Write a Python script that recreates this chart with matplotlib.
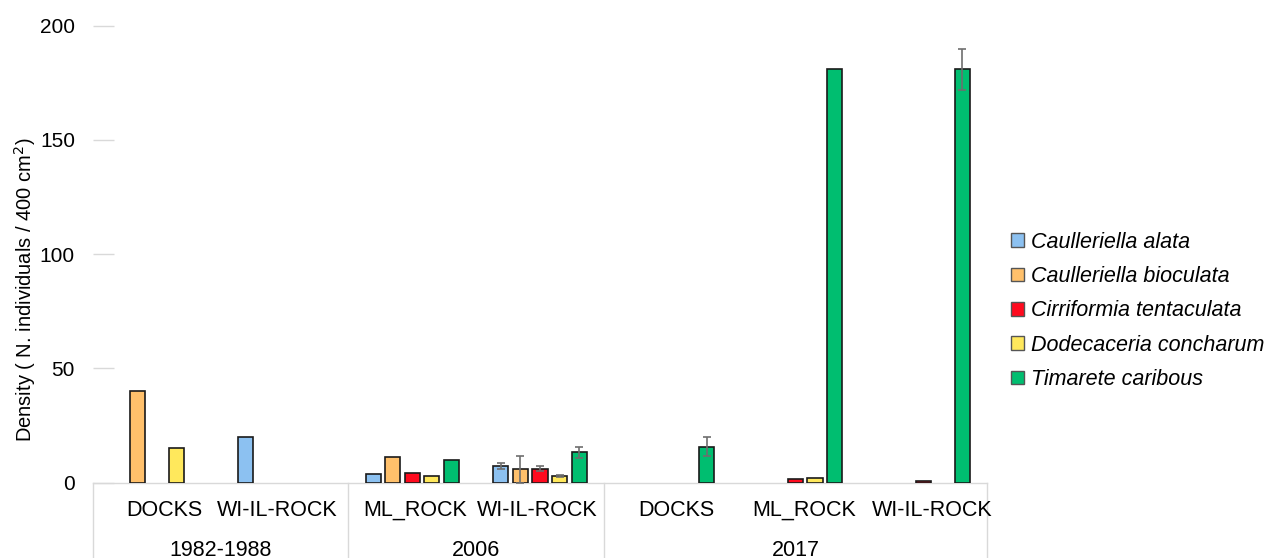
import numpy as np
import matplotlib
matplotlib.use("Agg")
import matplotlib.pyplot as plt

plt.rcParams['font.family'] = ['Liberation Sans', 'DejaVu Sans']

# ---- data ----
sites = ["DOCKS", "WI-IL-ROCK", "ML_ROCK", "WI-IL-ROCK", "DOCKS", "ML_ROCK", "WI-IL-ROCK"]
periods = ["1982-1988", "2006", "2017"]
period_sizes = [2, 2, 3]
species = ["Caulleriella alata", "Caulleriella bioculata", "Cirriformia tentaculata",
           "Dodecaceria concharum", "Timarete caribous"]

c_alata = [0, 20.2, 3.7, 7.5, 0, 0, 0]
c_bioculata = [40.2, 0, 11.2, 5.8, 0, 0, 0]
c_tentaculata = [0, 0, 4.3, 6.2, 0, 1.5, 0.9]
d_concharum = [15.2, 0, 2.8, 2.9, 0, 2.2, 0]
t_caribous = [0, 0, 9.8, 13.3, 15.7, 180.8, 180.8]

err_alata = [0, 0, 0, 1.3, 0, 0, 0]
err_bioculata = [0, 0, 0, 5.9, 0, 0, 0]
err_tentaculata = [0, 0, 0, 1.3, 0, 0, 0]
err_concharum = [0, 0, 0, 0.5, 0, 0, 0]
err_caribous = [0, 0, 0, 2.4, 4.2, 0, 9.1]

values = [c_alata, c_bioculata, c_tentaculata, d_concharum, t_caribous]
errors = [err_alata, err_bioculata, err_tentaculata, err_concharum, err_caribous]
colors = ["#8CC1F1", "#FFC06B", "#FF0A1E", "#FFE85C", "#00BE70"]

yticks = [0, 50, 100, 150, 200]
label_shift = [0.06, -0.06, 0.02, -0.02, 0.07, 0.07, 0.07]

# ---- figure ----
W, H = 1269, 558
fig = plt.figure(figsize=(W / 100, H / 100), dpi=100)
ax = fig.add_axes([93 / W, 1 - 482.7 / H, (987 - 93) / W, (482.7 - 25.5) / H])

x = np.arange(len(sites))
slot = 0.153
bw = 0.118
for i, (vals, errs, col) in enumerate(zip(values, errors, colors)):
    vals = np.array(vals, float)
    errs = np.array(errs, float)
    idx = np.where(vals > 0)[0]
    pos = x[idx] + (i - 2) * slot
    ax.bar(pos, vals[idx], width=bw, color=col, edgecolor="#1a1a1a", linewidth=1.2, zorder=3)
    eidx = np.where(errs > 0)[0]
    if len(eidx):
        ax.errorbar(x[eidx] + (i - 2) * slot, vals[eidx], yerr=errs[eidx], fmt="none",
                    ecolor="#6e6e6e", elinewidth=1.2, capsize=3, capthick=1.2, zorder=4)

ax.set_xlim(-0.5, len(sites) - 0.5)
ax.set_ylim(0, 200)
ax.set_yticks(yticks)
ax.set_yticklabels([str(t) for t in yticks], fontsize=15)
ax.tick_params(axis="y", direction="in", length=15, width=1, color="#d9d9d9", pad=13)
ax.set_xticks([])
for s in ["left", "right", "top"]:
    ax.spines[s].set_visible(False)
ax.spines["bottom"].set_color("#d9d9d9")
ax.spines["bottom"].set_linewidth(1)

# category labels
trans = ax.get_xaxis_transform()
for xi, s, sh in zip(x, sites, label_shift):
    ax.text(xi + sh, -(510 - 482.7) / (482.7 - 25.5), s, transform=trans,
            ha="center", va="center", fontsize=15.5)

# group boxes and labels
start = -0.5
bottom_frac = -(H - 482.7) / (482.7 - 25.5)
ax.plot([start, start], [0, bottom_frac], transform=trans, color="#d9d9d9", lw=1, clip_on=False)
for p, n in zip(periods, period_sizes):
    end = start + n
    ax.plot([end, end], [0, bottom_frac], transform=trans, color="#d9d9d9", lw=1, clip_on=False)
    ax.text((start + end) / 2, -(550 - 482.7) / (482.7 - 25.5), p, transform=trans,
            ha="center", va="center", fontsize=15.5)
    start = end

# y label
fig.text(25 / W, 1 - 290 / H, "Density ( N. individuals / 400 cm$^{2}$)", rotation=90,
         ha="center", va="center", fontsize=14.5)

# legend
handles = [plt.Rectangle((0, 0), 1, 1, facecolor=c, edgecolor="#555555", linewidth=1) for c in colors]
fig.legend(handles, species, loc="center left", bbox_to_anchor=(1011 / W, 1 - 311 / H),
           frameon=False, prop={"size": 15.5, "style": "italic"}, handlelength=0.6,
           handleheight=0.6, handletextpad=0.35, labelspacing=0.62, borderaxespad=0, borderpad=0)

fig.savefig("out.png", dpi=100)
